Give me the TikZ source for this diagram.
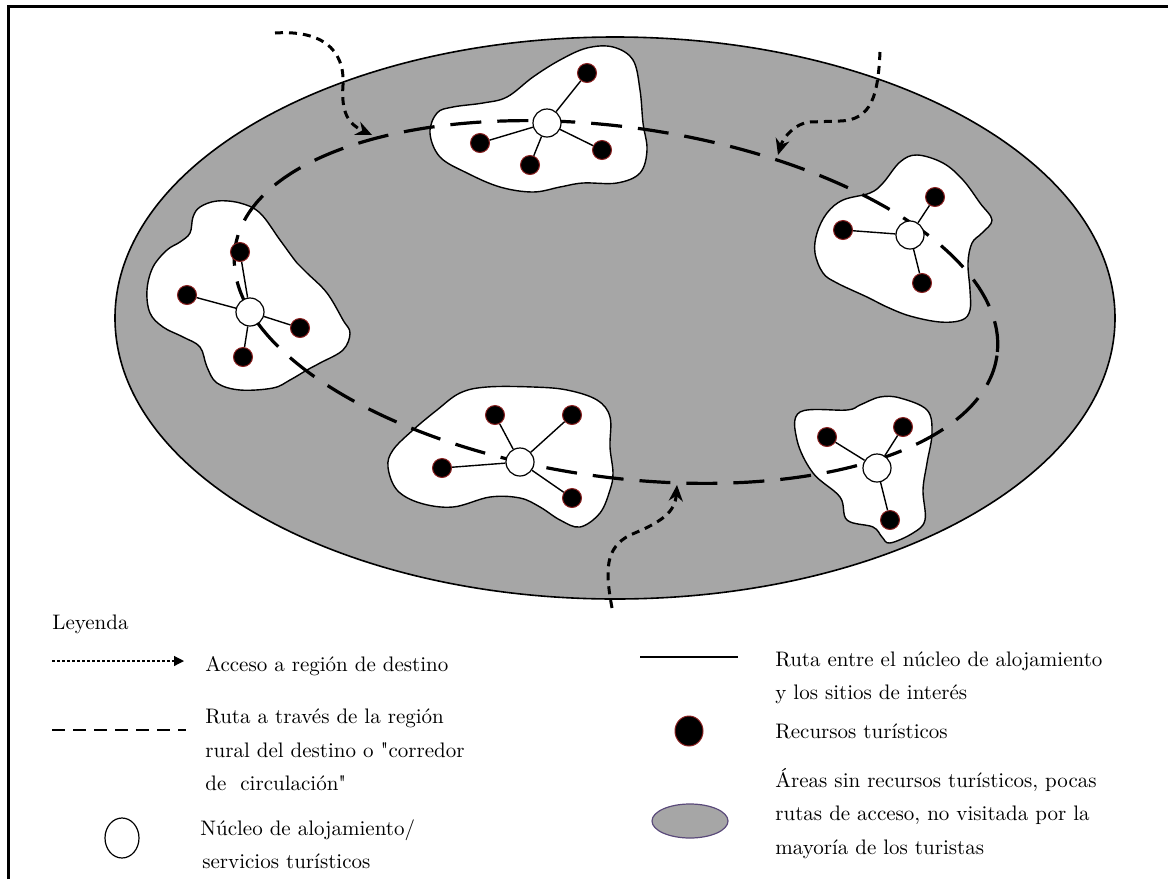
\documentclass[tikz,border=0pt]{standalone}
\usetikzlibrary{arrows.meta,shapes.geometric}
\definecolor{areagray}{HTML}{A6A6A6}
\definecolor{dotrim}{HTML}{8B2020}
\definecolor{legline}{HTML}{5A4A7A}
\begin{document}
\begin{tikzpicture}[x=0.5pt,y=-0.5pt,
  hub/.style={circle, draw, fill=white, line width=0.6pt, minimum size=14pt, inner sep=0pt},
  res/.style={circle, fill=black, draw=dotrim, line width=0.5pt, minimum size=9.5pt, inner sep=0pt},
  spoke/.style={line width=0.7pt},
  blob/.style={draw, fill=white, line width=0.7pt},
  route/.style={line width=1.6pt, dash pattern=on 15.5pt off 8pt},
  access/.style={line width=1.5pt, dash pattern=on 4pt off 3pt, -{Stealth[length=8pt, width=7pt]}},
  lab/.style={anchor=base west, inner sep=0pt, font=\fontsize{10.5}{12}\selectfont},
  legdot/.style={line width=0.6pt, dash pattern=on 1.5pt off 1pt, -{Triangle[length=5pt,width=5pt]}},
  legdash/.style={line width=0.75pt, dash pattern=on 6.5pt off 4pt}]
\useasboundingbox (0,0) rectangle (1168,879);
% frame
\draw[line width=1.5pt] (8,879) -- (8,6.5) -- (1168,6.5);
% region
\draw[fill=areagray, line width=0.8pt] (615,318) ellipse [x radius=500, y radius=281];
% blobs
\draw[blob] plot[smooth cycle, tension=0.6] coordinates {(240,203) (217,201) (200,207) (193,217) (190,233) (180,242) (167,250) (153,267) (147,290) (150,313) (163,327) (183,337) (200,347) (207,367) (217,383) (240,390) (273,388) (290,380) (307,370) (320,363) (343,350) (350,333) (343,320) (327,293) (307,273) (297,263) (280,240) (260,213)};
\draw[blob] plot[smooth cycle, tension=0.6] coordinates {(613,47) (633,60) (640,90) (643,123) (647,150) (640,173) (617,183) (583,183) (560,187) (533,192) (500,187) (467,173) (440,157) (430,133) (437,113) (453,107) (483,103) (507,97) (533,77) (560,60) (587,48)};
\draw[blob] plot[smooth cycle, tension=0.6] coordinates {(917,155) (943,163) (963,180) (980,203) (992,220) (982,233) (972,243) (968,263) (970,290) (970,310) (962,320) (940,322) (910,316) (887,307) (867,297) (837,283) (823,273) (815,253) (817,233) (827,213) (843,200) (870,193) (883,183) (900,162)};
\draw[blob] plot[smooth cycle, tension=0.6] coordinates {(533,387) (567,390) (597,400) (610,417) (610,447) (613,473) (610,490) (600,513) (580,527) (560,520) (540,507) (520,498) (490,497) (453,507) (420,503) (397,490) (388,467) (393,450) (413,430) (437,410) (460,393) (487,387)};
\draw[blob] plot[smooth cycle, tension=0.6] coordinates {(800,412) (847,410) (860,405) (880,397) (900,398) (927,410) (932,433) (927,463) (923,490) (925,520) (913,533) (890,543) (882,537) (873,527) (847,520) (840,497) (813,473) (797,440)};
% route
\draw[route] plot[domain=0:360, samples=120, smooth, variable=\t] ({616+381*cos(\t)-24.4*sin(\t)}, {302+53.6*cos(\t)+173.3*sin(\t)});
% access arrows
\coordinate (p1s) at (275,33); \coordinate (p1e) at (372,135);
\coordinate (p2s) at (880,52); \coordinate (p2e) at (778,155);
\coordinate (p3s) at (612,608); \coordinate (p3e) at (677,485);
\draw[access] (p1s) .. controls (320,30) and (345,48) .. (343,85) .. controls (341,112) and (348,124) .. (p1e);
\draw[access] (p2s) .. controls (878,95) and (872,120) .. (840,121) -- (810,122) .. controls (795,123) and (783,138) .. (p2e);
\draw[access] (p3s) .. controls (605,570) and (605,548) .. (630,535) .. controls (662,522) and (675,512) .. (p3e);
% cluster 1
\node[hub] (h1) at (250,312) {};
\node[res] (r1a) at (240,252) {};
\node[res] (r1b) at (187,295) {};
\node[res] (r1c) at (300,328) {};
\node[res] (r1d) at (243,357) {};
\foreach \r in {r1a,r1b,r1c,r1d} \draw[spoke] (h1) -- (\r);
% cluster 2
\node[hub] (h2) at (547,123) {};
\node[res] (r2a) at (587,73) {};
\node[res] (r2b) at (480,143) {};
\node[res] (r2c) at (530,165) {};
\node[res] (r2d) at (602,150) {};
\foreach \r in {r2a,r2b,r2c,r2d} \draw[spoke] (h2) -- (\r);
% cluster 3
\node[hub] (h3) at (910,235) {};
\node[res] (r3a) at (935,197) {};
\node[res] (r3b) at (843,230) {};
\node[res] (r3c) at (922,283) {};
\foreach \r in {r3a,r3b,r3c} \draw[spoke] (h3) -- (\r);
% cluster 4
\node[hub] (h4) at (520,462) {};
\node[res] (r4a) at (495,415) {};
\node[res] (r4b) at (572,415) {};
\node[res] (r4c) at (442,468) {};
\node[res] (r4d) at (572,498) {};
\foreach \r in {r4a,r4b,r4c,r4d} \draw[spoke] (h4) -- (\r);
% cluster 5
\node[hub] (h5) at (877,468) {};
\node[res] (r5a) at (827,437) {};
\node[res] (r5b) at (903,427) {};
\node[res] (r5c) at (890,520) {};
\foreach \r in {r5a,r5b,r5c} \draw[spoke] (h5) -- (\r);
% legend
\node[lab] (leg) at (52,629) {Leyenda};
\coordinate (a0) at (52,661); \coordinate (a1) at (184,661);
\draw[legdot] (a0) -- (a1);
\node[lab] (t1) at (205,671) {Acceso a región de destino};
\coordinate (d0) at (52,730); \coordinate (d1) at (186,730);
\draw[legdash] (d0) -- (d1);
\node[lab] (t2a) at (205,723) {Ruta a través de la región};
\node[lab] (t2b) at (205,757) {rural del destino o \textquotedbl corredor};
\node[lab] (t2c) at (205,790) {de\ \ circulación\textquotedbl};
\node[ellipse, draw, line width=0.6pt, minimum width=17pt, minimum height=20pt, inner sep=0pt] (lc) at (122,838) {};
\node[lab] (t3a) at (200,835) {Núcleo de alojamiento/};
\node[lab] (t3b) at (202,868) {servicios turísticos};
\coordinate (s0) at (640,657); \coordinate (s1) at (738,657);
\draw[line width=0.8pt] (s0) -- (s1);
\node[lab] (t4a) at (775,666) {Ruta entre el núcleo de alojamiento};
\node[lab] (t4b) at (775,699) {y los sitios de interés};
\node[ellipse, fill=black, draw=dotrim, line width=0.5pt, minimum width=14pt, minimum height=15pt, inner sep=0pt] (ld) at (689,731) {};
\node[lab] (t5) at (775,738) {Recursos turísticos};
\node[ellipse, fill=areagray, draw=legline, line width=0.6pt, minimum width=38pt, minimum height=17pt, inner sep=0pt] (le) at (690,821) {};
\node[lab] (t6a) at (775,787) {Áreas sin recursos turísticos, pocas};
\node[lab] (t6b) at (775,820) {rutas de acceso, no visitada por la};
\node[lab] (t6c) at (775,854) {mayoría de los turistas};
\end{tikzpicture}
\end{document}
